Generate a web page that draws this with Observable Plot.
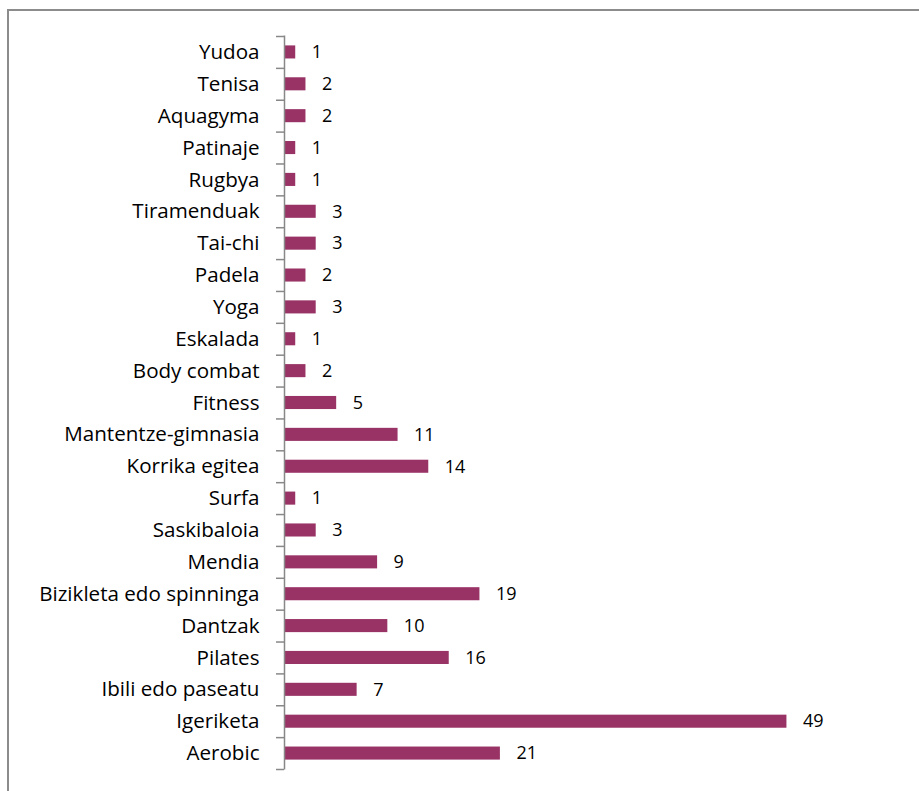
<!DOCTYPE html>
<html>
<head>
<meta charset="utf-8">
<script src="https://cdn.jsdelivr.net/npm/d3@7"></script>
<script src="https://cdn.jsdelivr.net/npm/@observablehq/plot@0.6"></script>
<style>
  html, body { margin: 0; padding: 0; background: #fff; }
  #wrap { position: relative; width: 919px; height: 791px; overflow: hidden; }
  #frame { position: absolute; left: 7px; top: 9px; width: 930px; height: 800px;
           border-top: 2px solid #8c8c8c; border-left: 2px solid #8c8c8c; box-sizing: border-box; }
  #chart { position: absolute; left: 0; top: 0; }
</style>
</head>
<body>
<div id="wrap">
  <div id="frame"></div>
  <div id="chart"></div>
</div>
<script>
const categories = [
  "Yudoa", "Tenisa", "Aquagyma", "Patinaje", "Rugbya", "Tiramenduak", "Tai-chi",
  "Padela", "Yoga", "Eskalada", "Body combat", "Fitness", "Mantentze-gimnasia",
  "Korrika egitea", "Surfa", "Saskibaloia", "Mendia", "Bizikleta edo spinninga",
  "Dantzak", "Pilates", "Ibili edo paseatu", "Igeriketa", "Aerobic"
];
const values = [1, 2, 2, 1, 1, 3, 3, 2, 3, 1, 2, 5, 11, 14, 1, 3, 9, 19, 10, 16, 7, 49, 21];

const data = categories.map((c, i) => ({category: c, value: values[i]}));

const W = 919, H = 791;
const mTop = 36, mBottom = 22, mLeft = 284;
const step = (H - mTop - mBottom) / categories.length;
const font = "'Open Sans', 'Noto Sans', sans-serif";

const chart = Plot.plot({
  width: W,
  height: H,
  marginTop: mTop,
  marginBottom: mBottom,
  marginLeft: mLeft + 1,
  marginRight: 20,
  style: {fontFamily: font, fontSize: "20px", color: "#000", background: "transparent", overflow: "visible"},
  x: {domain: [0, 60], axis: null},
  y: {domain: categories, paddingInner: 0.59, paddingOuter: 0.295, round: false, label: null, axis: null},
  marks: [
    Plot.barX(data, {y: "category", x: "value", fill: "#993366"}),
    Plot.text(data, {y: "category", x: "value", text: d => String(d.value), textAnchor: "start", dx: 16, fontSize: 18, fill: "#000"}),
    Plot.axisY({tickSize: 0, tickPadding: 25, fontSize: 20.6, fill: "#000", label: null, dx: -1}),
    Plot.axisY({tickSize: 8, tickFormat: () => "", dy: step / 2, dx: -1, stroke: "#888", strokeWidth: 1.5, label: null}),
    Plot.axisY({ticks: [categories[0]], tickSize: 8, tickFormat: () => "", dy: -step / 2, dx: -1, stroke: "#888", strokeWidth: 1.5, label: null}),
    Plot.ruleX([0], {stroke: "#888", strokeWidth: 1.5, dx: -1, insetTop: -0.5, insetBottom: -0.5})
  ]
});
document.getElementById("chart").append(chart);
</script>
</body>
</html>
